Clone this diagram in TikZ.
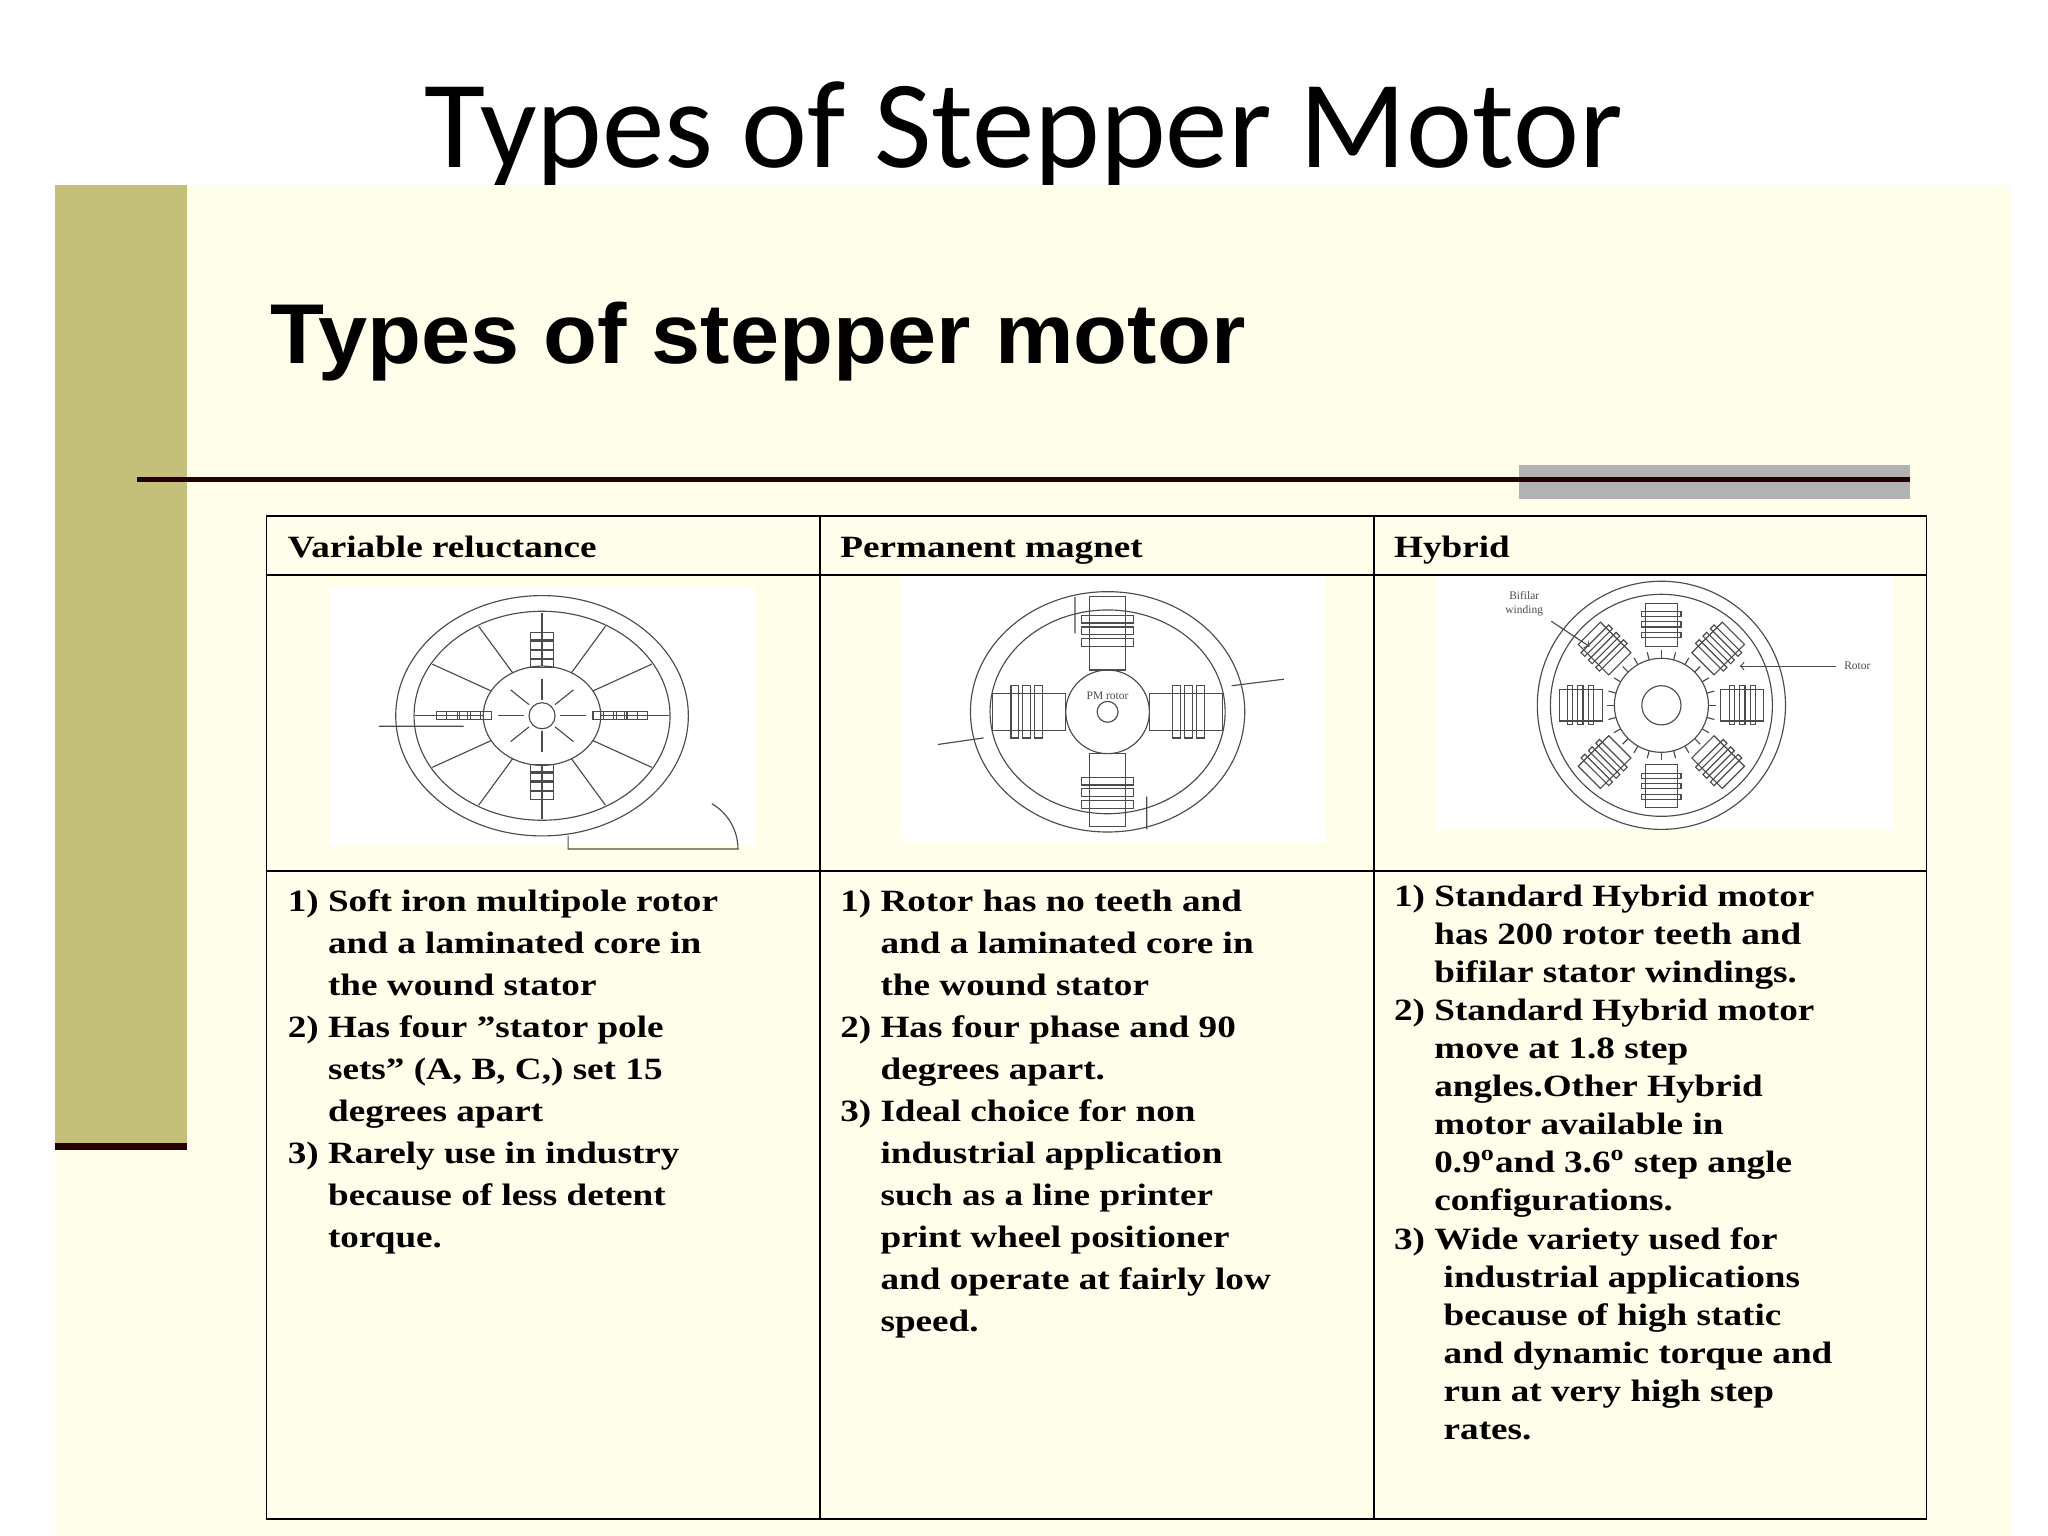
\documentclass[tikz,border=0pt]{standalone}
\usepackage{fontspec}
\setmainfont{Liberation Serif}[FakeStretch=1.2]
\newfontfamily\titlefont{Carlito}
\newfontfamily\headfont{Liberation Sans}[FakeStretch=1.04]
\newfontfamily\plainserif{Liberation Serif}
\begin{document}
\begin{tikzpicture}[x=0.02cm,y=-0.02cm,
  cell/.style={anchor=north west,align=left,inner sep=0pt,font=\bfseries\fontsize{13.5}{18.3}\selectfont},
  cellb/.style={anchor=north west,align=left,inner sep=0pt,font=\bfseries\fontsize{13.5}{16.6}\selectfont},
  hd/.style={anchor=base west,inner sep=0pt,font=\bfseries\fontsize{13.5}{16}\selectfont},
  sk/.style={line width=0.5pt,black!70}]
\useasboundingbox (0,0) rectangle (1568,1176);
\fill[white] (0,0) rectangle (1568,1176);
\node[anchor=base,font=\titlefont\fontsize{54.5}{60}\selectfont] (title) at (784,128) {Types of Stepper Motor};
\fill[yellow!8!white] (42,142) rectangle (1540,1176);
\fill[olive!45!white!85!gray] (42,142) rectangle (143,880);
\draw[line width=3pt,black!85!red] (42,878) -- (143,878);
\node[anchor=base west,inner sep=0pt,font=\headfont\bfseries\fontsize{37}{40}\selectfont] (head) at (207,278) {Types of stepper motor};
\fill[gray!60] (1163,356) rectangle (1462,382);
\draw[line width=2pt,black!85!red] (105,367) -- (1462,367);
% table
\draw[line width=0.8pt] (204,395) rectangle (1475,1163);
\draw[line width=0.8pt] (628,395) -- (628,1163) (1052,395) -- (1052,1163);
\draw[line width=0.8pt] (204,440) -- (1475,440) (204,667) -- (1475,667);
\node[hd] (h1) at (220,427) {Variable reluctance};
\node[hd] (h2) at (643,427) {Permanent magnet};
\node[hd] (h3) at (1067,427) {Hybrid};
% images
\fill[white] (253,450) rectangle (578,648);
\fill[white] (690,441) rectangle (1015,645);
\fill[white] (1100,441) rectangle (1450,635);
% sketch 1: variable reluctance
\begin{scope}[shift={(415,548)},sk]
\draw (0,0) ellipse (112 and 92);
\draw (0,0) ellipse (98 and 80);
\draw (0,0) ellipse (45 and 38);
\foreach \a in {0,30,...,330}{\draw (\a:45 and 38) -- (\a:97 and 79);}
\foreach \a in {0,45,...,315}{\draw[fill=white] (\a:14 and 12) -- (\a:34 and 28);}
\draw (0,0) circle (10);
\foreach \a in {0,90,180,270}{\foreach \k in {0,1,2,3}{\draw (\a:{48+8*\k} and {40+7*\k}) ++(-9,-3) rectangle ++(18,6);}}
\draw (-125,8) -- (-60,8) (20,92) -- (20,102) -- (150,102) arc (0:-60:40);
\end{scope}
% sketch 2: permanent magnet
\begin{scope}[shift={(848,545)},sk]
\draw (0,0) ellipse (105 and 92);
\draw (0,0) ellipse (90 and 78);
\draw (0,0) circle (32);
\draw (0,0) circle (8);
\foreach \a in {0,90,180,270}{\draw[rotate=\a] (32,-14) rectangle (88,14);
  \foreach \k in {0,1,2}{\draw[rotate=\a] (50+9*\k,-20) rectangle (56+9*\k,20);}}
\node[font=\plainserif\tiny] (pm) at (0,-12) {PM rotor};
\draw (-25,-88) -- (-25,-60) (30,90) -- (30,65) (95,-20) -- (135,-25) (-95,20) -- (-130,25);
\end{scope}
% sketch 3: hybrid
\begin{scope}[shift={(1272,540)},sk]
\draw (0,0) circle (95);
\draw (0,0) circle (85);
\draw (0,0) circle (15);
\foreach \a in {0,15,...,345}{\draw (\a:36) -- (\a:42);}
\draw (0,0) circle (36);
\foreach \a in {0,45,...,315}{\draw[rotate=\a] (45,-12) rectangle (78,12);
  \foreach \k in {0,1,2}{\draw[rotate=\a] (52+8*\k,-15) rectangle (56+8*\k,15);}}
\node[font=\plainserif\tiny,align=center] (bf) at (-105,-78) {Bifilar\\winding};
\node[font=\plainserif\tiny] (rt) at (150,-30) {Rotor};
\draw[->] (bf) -- (-55,-45);
\draw[->] (rt) -- (60,-30);
\end{scope}
% text
\node[cell] (t1) at (220,681) {1) Soft iron multipole rotor\\\hspace*{1.3em}and a laminated core in\\\hspace*{1.3em}the wound stator\\2) Has four {\char"22}stator pole\\\hspace*{1.3em}sets{\char"22} (A, B, C,) set 15\\\hspace*{1.3em}degrees apart\\3) Rarely use in industry\\\hspace*{1.3em}because of less detent\\\hspace*{1.3em}torque.};
\node[cell] (t2) at (643,681) {1) Rotor has no teeth and\\\hspace*{1.3em}and a laminated core in\\\hspace*{1.3em}the wound stator\\2) Has four phase and 90\\\hspace*{1.3em}degrees apart.\\3) Ideal choice for non\\\hspace*{1.3em}industrial application\\\hspace*{1.3em}such as a line printer\\\hspace*{1.3em}print wheel positioner\\\hspace*{1.3em}and operate at fairly low\\\hspace*{1.3em}speed.};
\node[cellb] (t3) at (1067,677) {1) Standard Hybrid motor\\\hspace*{1.3em}has 200 rotor teeth and\\\hspace*{1.3em}bifilar stator windings.\\2) Standard Hybrid motor\\\hspace*{1.3em}move at 1.8 step\\\hspace*{1.3em}angles.Other Hybrid\\\hspace*{1.3em}motor available in\\\hspace*{1.3em}0.9\textsuperscript{o}and 3.6\textsuperscript{o} step angle\\\hspace*{1.3em}configurations.\\3) Wide variety used for\\\hspace*{1.6em}industrial applications\\\hspace*{1.6em}because of high static\\\hspace*{1.6em}and dynamic torque and\\\hspace*{1.6em}run at very high step\\\hspace*{1.6em}rates.};
\end{tikzpicture}
\end{document}
